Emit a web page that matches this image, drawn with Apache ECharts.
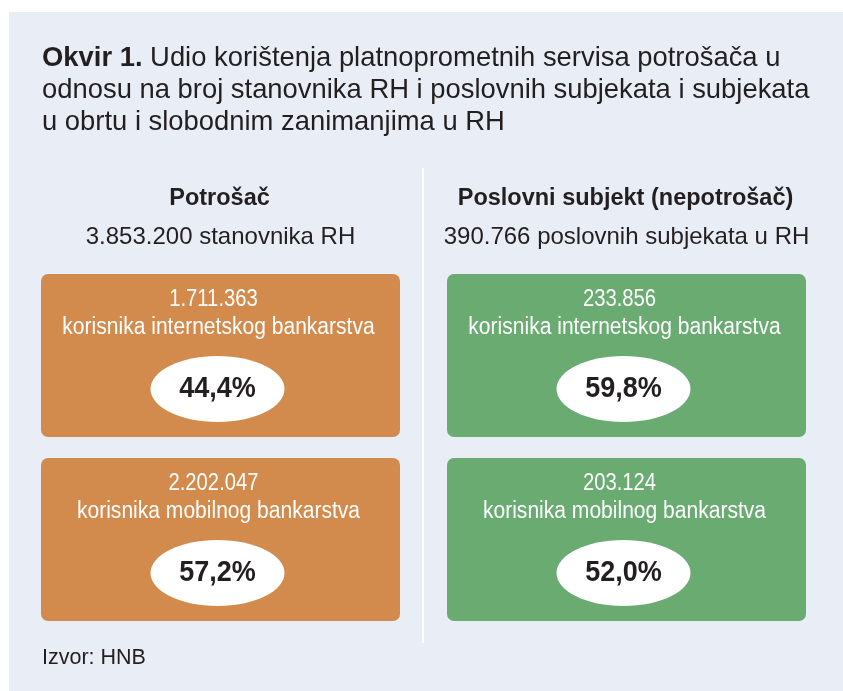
<!DOCTYPE html>
<html>
<head>
<meta charset="utf-8">
<script src="https://cdn.jsdelivr.net/npm/echarts@6/dist/echarts.min.js"></script>
<style>
  html, body { margin: 0; padding: 0; background: #fff; }
  #chart { width: 843px; height: 691px; }
</style>
</head>
<body>
<div id="chart"></div>
<script>
// podaci
var titleLines = [
    'Udio korištenja platnoprometnih servisa potrošača u',
    'odnosu na broj stanovnika RH i poslovnih subjekata i subjekata',
    'u obrtu i slobodnim zanimanjima u RH'
];
var groups = ['Potrošač', 'Poslovni subjekt (nepotrošač)'];
var populations = ['3.853.200 stanovnika RH', '390.766 poslovnih subjekata u RH'];
var internetUsers = ['1.711.363', '233.856'];
var mobileUsers = ['2.202.047', '203.124'];
var internetShare = [44.4, 59.8];
var mobileShare = [57.2, 52.0];
var boxLabels = ['korisnika internetskog bankarstva', 'korisnika mobilnog bankarstva'];
var source = 'Izvor: HNB';

var boxColors = ['#D38B4D', '#6AAB72'];
var textDark = '#231F20';
var regular = '"Liberation Sans", Arial, Helvetica, sans-serif';

function pct(v) {
    return v.toFixed(1).replace('.', ',') + '%';
}

var chart = echarts.init(document.getElementById('chart'), null, { renderer: 'canvas' });

var elements = [];

// pozadina
elements.push({
    type: 'rect',
    shape: { x: 9, y: 12, width: 834, height: 679 },
    style: { fill: '#E9EEF6' }
});

// naslov
titleLines.forEach(function (line, i) {
    elements.push({
        type: 'text',
        x: 42,
        y: 58.5 + i * 32,
        style: {
            text: i === 0 ? '{b|Okvir 1.} ' + line : line,
            fill: textDark,
            font: '27.4px ' + regular,
            verticalAlign: 'middle',
            rich: {
                b: { fontWeight: 'bold', fontSize: 27.4, fontFamily: regular, fill: textDark }
            }
        }
    });
});

// razdjelnik
elements.push({
    type: 'line',
    shape: { x1: 423, y1: 168, x2: 423, y2: 643 },
    style: { stroke: '#FFFFFF', lineWidth: 2 }
});

var colLeft = [41, 447];
var boxW = 359, boxH = 163;
var boxTops = [274, 458];

groups.forEach(function (g, c) {
    var cx = colLeft[c] + boxW / 2;
    elements.push({
        type: 'text',
        x: cx - 1, y: 199,
        style: {
            text: g, fill: textDark, font: 'bold 23.5px ' + regular,
            align: 'center', verticalAlign: 'middle'
        }
    });
    elements.push({
        type: 'text',
        x: cx, y: 237.5,
        style: {
            text: populations[c], fill: textDark, font: '24px ' + regular,
            align: 'center', verticalAlign: 'middle'
        }
    });

    var rows = [
        { n: internetUsers[c], label: boxLabels[0], v: internetShare[c] },
        { n: mobileUsers[c], label: boxLabels[1], v: mobileShare[c] }
    ];
    rows.forEach(function (r, k) {
        var top = boxTops[k];
        elements.push({
            type: 'rect',
            shape: { x: colLeft[c], y: top, width: boxW, height: boxH, r: 7 },
            style: { fill: boxColors[c] }
        });
        elements.push({
            type: 'text',
            x: cx - 7, y: top + 26, scaleX: 0.88,
            style: {
                text: r.n, fill: '#FFFFFF', font: '23px ' + regular,
                align: 'center', verticalAlign: 'middle'
            }
        });
        elements.push({
            type: 'text',
            x: cx - 2, y: top + 54, scaleX: 0.915,
            style: {
                text: r.label, fill: '#FFFFFF', font: '23px ' + regular,
                align: 'center', verticalAlign: 'middle'
            }
        });
        elements.push({
            type: 'ellipse',
            shape: { cx: cx - 3, cy: top + 115, rx: 67, ry: 33 },
            style: { fill: '#FFFFFF' }
        });
        elements.push({
            type: 'text',
            x: cx - 3, y: top + 115, scaleX: 0.9,
            style: {
                text: pct(r.v), fill: textDark, font: 'bold 30px ' + regular,
                align: 'center', verticalAlign: 'middle'
            }
        });
    });
});

elements.push({
    type: 'text',
    x: 42, y: 658,
    style: {
        text: source, fill: textDark, font: '21.5px ' + regular,
        verticalAlign: 'middle'
    }
});

chart.setOption({
    animation: false,
    graphic: { elements: elements }
});
</script>
</body>
</html>
